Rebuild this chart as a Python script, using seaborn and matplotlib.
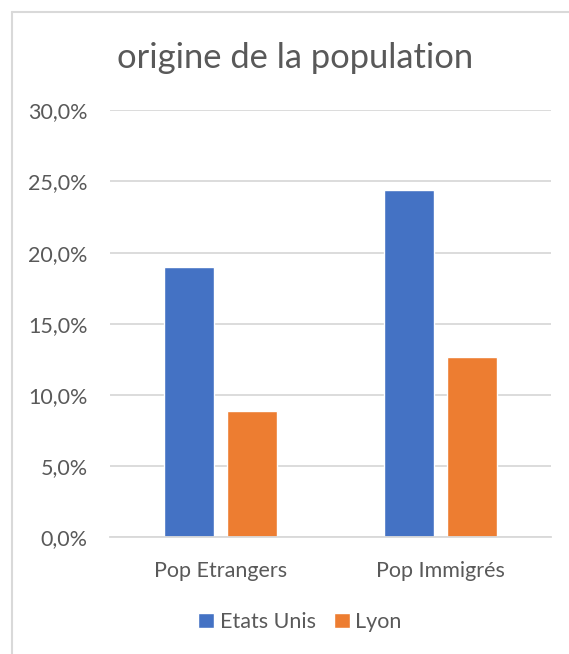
import pandas as pd
import matplotlib.pyplot as plt
import seaborn as sns
from matplotlib.lines import Line2D
from matplotlib.ticker import FuncFormatter, MultipleLocator

sns.set_style("white")
plt.rcParams["font.family"] = ["Lato", "DejaVu Sans"]

# Data (percent)
categories = ["Pop Etrangers", "Pop Immigrés"]
series = ["Etats Unis", "Lyon"]
etats_unis = [19.0, 24.4]
lyon = [8.9, 12.7]
colors = ["#4472C4", "#ED7D31"]

df = pd.DataFrame({
    "Categorie": categories * 2,
    "Serie": [series[0]] * 2 + [series[1]] * 2,
    "Valeur": etats_unis + lyon,
})

text_color = "#595959"
grid_color = "#D9D9D9"

fig = plt.figure(figsize=(5.69, 6.54), dpi=100)
ax = fig.add_axes([0.1933, 0.1783, 0.7751, 0.6532])

sns.barplot(data=df, x="Categorie", y="Valeur", hue="Serie", palette=colors,
            width=0.571, gap=0.206, saturation=1, ax=ax, legend=True)

ax.set_ylim(0, 30)
ax.set_xlim(-0.5, 1.5)
ax.yaxis.set_major_locator(MultipleLocator(5))
ax.yaxis.set_major_formatter(FuncFormatter(lambda v, p: f"{v:.1f}%".replace(".", ",")))
ax.grid(axis="y", color=grid_color, linewidth=1.3)
ax.set_axisbelow(True)
for side in ["top", "right", "left"]:
    ax.spines[side].set_visible(False)
ax.spines["bottom"].set_color(grid_color)
ax.spines["bottom"].set_linewidth(1.3)
ax.tick_params(axis="both", length=0, labelsize=15.5, labelcolor=text_color)
ax.tick_params(axis="y", pad=16)
ax.tick_params(axis="x", pad=17)
ax.set_xlabel("")
ax.set_ylabel("")

fig.text(0.518, 1 - 58 / 654, "origine de la population", ha="center", va="center",
         fontsize=24.8, color=text_color)

handles, labels = ax.get_legend_handles_labels()
ax.legend(handles, labels, loc="center", bbox_to_anchor=(300 / 569, 1 - 622 / 654),
          bbox_transform=fig.transFigure, ncol=2, frameon=False,
          fontsize=15.5, labelcolor=text_color, handlelength=0.75, handleheight=0.75,
          handletextpad=0.25, columnspacing=0.85)

# chart frame (only top and left edges visible in the crop)
fig.add_artist(Line2D([12 / 569, 1], [1 - 12 / 654, 1 - 12 / 654],
                      transform=fig.transFigure, color=grid_color, linewidth=1.5))
fig.add_artist(Line2D([12 / 569, 12 / 569], [0, 1 - 12 / 654],
                      transform=fig.transFigure, color=grid_color, linewidth=1.5))

fig.savefig("out.png", dpi=100)
